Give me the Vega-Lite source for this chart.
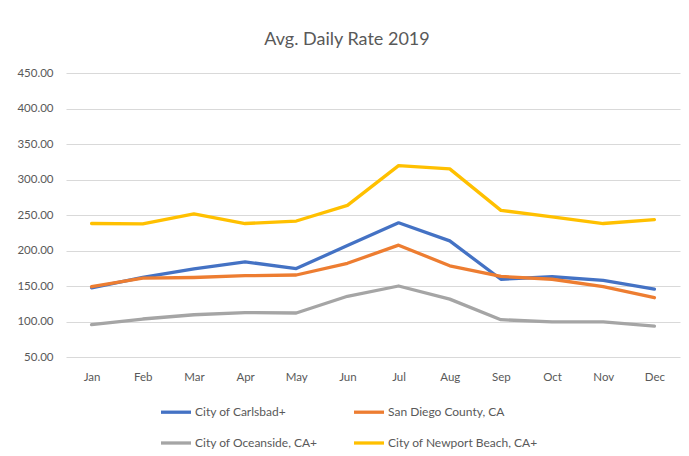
{
  "$schema": "https://vega.github.io/schema/vega-lite/v6.json",
  "autosize": {"type": "none"},
  "width": 614,
  "height": 284,
  "padding": {"left": 66, "top": 73, "right": 9, "bottom": 99},
  "background": "white",
  "title": {"text": "Avg. Daily Rate 2019", "font": "Lato", "fontSize": 18, "fontWeight": "normal", "color": "#595959", "anchor": "middle", "dx": -26, "offset": 18},
  "config": {
    "view": {"stroke": null},
    "font": "Lato"
  },
  "data": {"values": [
    {"month": "Jan", "series": "City of Carlsbad+", "value": 147.5},
    {"month": "Feb", "series": "City of Carlsbad+", "value": 162},
    {"month": "Mar", "series": "City of Carlsbad+", "value": 174},
    {"month": "Apr", "series": "City of Carlsbad+", "value": 184},
    {"month": "May", "series": "City of Carlsbad+", "value": 174.5},
    {"month": "Jun", "series": "City of Carlsbad+", "value": 207},
    {"month": "Jul", "series": "City of Carlsbad+", "value": 239},
    {"month": "Aug", "series": "City of Carlsbad+", "value": 213.5},
    {"month": "Sep", "series": "City of Carlsbad+", "value": 159.5},
    {"month": "Oct", "series": "City of Carlsbad+", "value": 163},
    {"month": "Nov", "series": "City of Carlsbad+", "value": 158},
    {"month": "Dec", "series": "City of Carlsbad+", "value": 145.5},
    {"month": "Jan", "series": "San Diego County, CA", "value": 149},
    {"month": "Feb", "series": "San Diego County, CA", "value": 161},
    {"month": "Mar", "series": "San Diego County, CA", "value": 162},
    {"month": "Apr", "series": "San Diego County, CA", "value": 164.5},
    {"month": "May", "series": "San Diego County, CA", "value": 165.5},
    {"month": "Jun", "series": "San Diego County, CA", "value": 182},
    {"month": "Jul", "series": "San Diego County, CA", "value": 207.5},
    {"month": "Aug", "series": "San Diego County, CA", "value": 178.5},
    {"month": "Sep", "series": "San Diego County, CA", "value": 163.5},
    {"month": "Oct", "series": "San Diego County, CA", "value": 159.5},
    {"month": "Nov", "series": "San Diego County, CA", "value": 149},
    {"month": "Dec", "series": "San Diego County, CA", "value": 133.5},
    {"month": "Jan", "series": "City of Oceanside, CA+", "value": 95.5},
    {"month": "Feb", "series": "City of Oceanside, CA+", "value": 103.5},
    {"month": "Mar", "series": "City of Oceanside, CA+", "value": 109.5},
    {"month": "Apr", "series": "City of Oceanside, CA+", "value": 112.5},
    {"month": "May", "series": "City of Oceanside, CA+", "value": 112},
    {"month": "Jun", "series": "City of Oceanside, CA+", "value": 135.5},
    {"month": "Jul", "series": "City of Oceanside, CA+", "value": 150},
    {"month": "Aug", "series": "City of Oceanside, CA+", "value": 131.5},
    {"month": "Sep", "series": "City of Oceanside, CA+", "value": 102.5},
    {"month": "Oct", "series": "City of Oceanside, CA+", "value": 99.5},
    {"month": "Nov", "series": "City of Oceanside, CA+", "value": 99.5},
    {"month": "Dec", "series": "City of Oceanside, CA+", "value": 93.5},
    {"month": "Jan", "series": "City of Newport Beach, CA+", "value": 238},
    {"month": "Feb", "series": "City of Newport Beach, CA+", "value": 237.5},
    {"month": "Mar", "series": "City of Newport Beach, CA+", "value": 251.5},
    {"month": "Apr", "series": "City of Newport Beach, CA+", "value": 238},
    {"month": "May", "series": "City of Newport Beach, CA+", "value": 241.5},
    {"month": "Jun", "series": "City of Newport Beach, CA+", "value": 263.5},
    {"month": "Jul", "series": "City of Newport Beach, CA+", "value": 319.5},
    {"month": "Aug", "series": "City of Newport Beach, CA+", "value": 315},
    {"month": "Sep", "series": "City of Newport Beach, CA+", "value": 256.5},
    {"month": "Oct", "series": "City of Newport Beach, CA+", "value": 247.5},
    {"month": "Nov", "series": "City of Newport Beach, CA+", "value": 238},
    {"month": "Dec", "series": "City of Newport Beach, CA+", "value": 243.5}
  ]},
  "mark": {"type": "line", "strokeWidth": 3.3, "strokeCap": "round", "strokeJoin": "round"},
  "encoding": {
    "x": {
      "field": "month", "type": "ordinal",
      "sort": ["Jan","Feb","Mar","Apr","May","Jun","Jul","Aug","Sep","Oct","Nov","Dec"],
      "scale": {"type": "point", "padding": 0.5},
      "axis": {"title": null, "labelAngle": 0, "ticks": false, "domain": false, "grid": false, "labelColor": "#595959", "labelFontSize": 11.5, "labelPadding": 14, "labelFont": "Lato"}
    },
    "y": {
      "field": "value", "type": "quantitative",
      "scale": {"domain": [50, 450], "nice": false, "zero": false},
      "axis": {"title": null, "values": [50,100,150,200,250,300,350,400,450], "format": ".2f", "ticks": false, "domain": false, "gridColor": "#d9d9d9", "gridWidth": 1, "labelColor": "#595959", "labelFontSize": 11.5, "labelPadding": 13, "labelFont": "Lato"}
    },
    "color": {
      "field": "series", "type": "nominal",
      "sort": ["City of Carlsbad+", "San Diego County, CA", "City of Oceanside, CA+", "City of Newport Beach, CA+"],
      "scale": {
        "domain": ["City of Carlsbad+", "San Diego County, CA", "City of Oceanside, CA+", "City of Newport Beach, CA+"],
        "range": ["#4472C4", "#ED7D31", "#A5A5A5", "#FFC000"]
      },
      "legend": {
        "title": null, "orient": "none", "legendX": 93, "legendY": 322, "direction": "horizontal", "columns": 2,
        "symbolType": "stroke", "symbolSize": 900, "symbolStrokeWidth": 3.3,
        "labelFontSize": 12, "labelColor": "#595959", "labelFont": "Lato", "labelOffset": 2,
        "columnPadding": 29, "rowPadding": 7
      }
    }
  }
}
